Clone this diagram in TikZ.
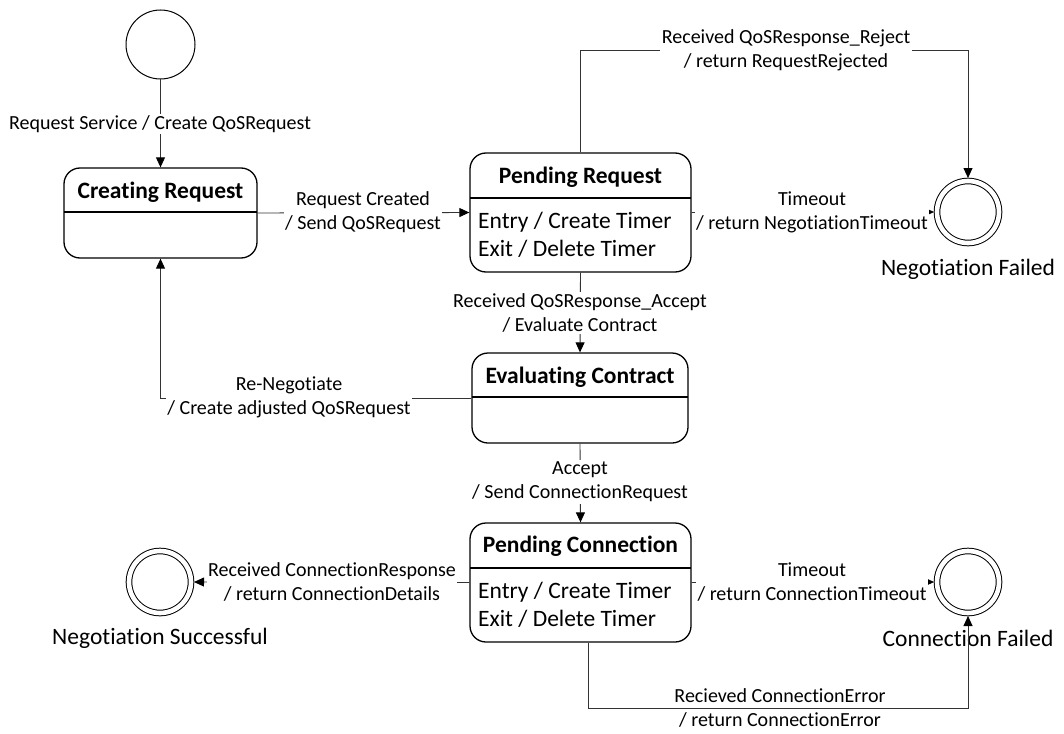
\documentclass[tikz,border=0pt]{standalone}
\usepackage{fontspec}
\setmainfont{Carlito}[Ligatures=NoCommon]
\usetikzlibrary{arrows.meta}

\begin{document}
\begin{tikzpicture}[x=1pt,y=-1pt,
  statebox/.style={draw=black, line width=1.3pt, rounded corners=16pt, inner sep=0pt},
  divider/.style={draw=black, line width=1.1pt},
  statetitle/.style={font=\fontsize{23.5}{28}\selectfont\bfseries, inner sep=0pt},
  stateacts/.style={font=\fontsize{23.5}{28}\selectfont, align=left, anchor=west, inner sep=0pt},
  initstate/.style={circle, draw=black, line width=1pt, minimum size=69pt, inner sep=0pt},
  finalstate/.style={circle, draw=black, double, double distance=4.6pt, line width=1pt,
    minimum size=62pt, inner sep=0pt, outer sep=3pt},
  finallabel/.style={font=\fontsize{23.5}{28}\selectfont, inner sep=0pt},
  tr/.style={draw=black!80, line width=0.9pt,
    -{Triangle[length=10pt,width=9pt,color=black]}},
  trlabel/.style={font=\fontsize{20}{24}\selectfont, align=center, fill=white, inner sep=1.5pt}
]
\useasboundingbox (0,0) rectangle (1064,733);

% ---------- states ----------
\node[initstate] (init) at (160.5,44.5) {};

\node[statebox, minimum width=193pt, minimum height=90pt] (cr) at (160.5,213) {};
\node[statetitle] (crt) at (160.5,192) {Creating Request};
\draw[divider] (64,212) -- (257,212);

\node[statebox, minimum width=221pt, minimum height=119pt] (pr) at (580.5,212.5) {};
\node[statetitle] (prt) at (580.5,177) {Pending Request};
\draw[divider] (470,198) -- (691,198);
\node[stateacts] (pra) at (478,235) {Entry / Create Timer\\Exit / Delete Timer};

\node[statebox, minimum width=216pt, minimum height=90pt] (ec) at (580,398) {};
\node[statetitle] (ect) at (580,377) {Evaluating Contract};
\draw[divider] (472,397) -- (688,397);

\node[statebox, minimum width=221pt, minimum height=119pt] (pc) at (580.5,582.5) {};
\node[statetitle] (pct) at (580.5,546) {Pending Connection};
\draw[divider] (470,568) -- (691,568);
\node[stateacts] (pca) at (478,605) {Entry / Create Timer\\Exit / Delete Timer};

\node[finalstate] (nf) at (968,212) {};
\node[finallabel] (nfl) at (968,269) {Negotiation Failed};

\node[finalstate] (ns) at (160,582) {};
\node[finallabel] (nsl) at (160,638) {Negotiation Successful};

\node[finalstate] (nc) at (968,582) {};
\node[finallabel] (ncl) at (968,638) {Connection Failed};

% ---------- transitions ----------
\coordinate (rejcorner) at (968,50);
\coordinate (errcorner) at (968,708);

\draw[tr] (init) -- (cr);
\node[trlabel] at (160,124) {Request Service / Create QoSRequest};

\draw[tr] (cr.east) -- (pr.west);
\node[trlabel] at (363,212) {Request Created\\/ Send QoSRequest};

\draw[tr] (pr.north) |- (rejcorner) -- (nf.north);
\node[trlabel] at (786,50) {Received QoSResponse\_Reject\\/ return RequestRejected};

\draw[tr] (pr.east) -- (nf.west);
\node[trlabel] at (812,212) {Timeout\\/ return NegotiationTimeout};

\draw[tr] (pr.south) -- (ec.north);
\node[trlabel] at (580,313) {Received QoSResponse\_Accept\\/ Evaluate Contract};

\draw[tr] (ec.west) -| (cr.south);
\node[trlabel] at (289,397) {Re-Negotiate\\/ Create adjusted QoSRequest};

\draw[tr] (ec.south) -- (pc.north);
\node[trlabel] at (580,482) {Accept\\/ Send ConnectionRequest};

\draw[tr] (pc.west) -- (ns.east);
\node[trlabel] at (332,582) {Received ConnectionResponse\\/ return ConnectionDetails};

\draw[tr] (pc.east) -- (nc.west);
\node[trlabel] at (812,582) {Timeout\\/ return ConnectionTimeout};

\node[trlabel] at (780,708) {Recieved ConnectionError\\/ return ConnectionError};
\draw[tr] ([xshift=8pt]pc.south) |- (errcorner) -- (nc.south);
\end{tikzpicture}
\end{document}
